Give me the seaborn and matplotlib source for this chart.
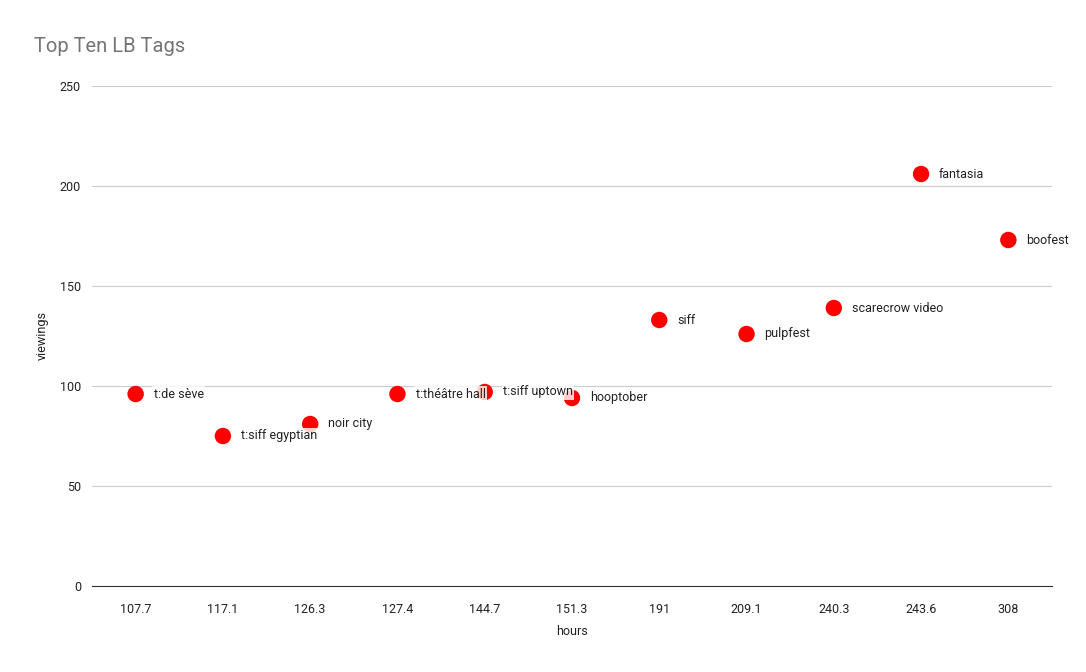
import pandas as pd
import matplotlib
matplotlib.use("Agg")
import matplotlib.pyplot as plt
import seaborn as sns

hours = ['107.7', '117.1', '126.3', '127.4', '144.7', '151.3', '191', '209.1', '240.3', '243.6', '308']
viewings = [96, 75, 81, 96, 97, 94, 133, 126, 139, 206, 173]
tags = ['t:de sève', 't:siff egyptian', 'noir city', 't:théâtre hall', 't:siff uptown',
        'hooptober', 'siff', 'pulpfest', 'scarecrow video', 'fantasia', 'boofest']

df = pd.DataFrame({'hours': hours, 'viewings': viewings, 'tag': tags})

sns.set_theme(style='white')
plt.rcParams['font.family'] = ['Roboto', 'DejaVu Sans']

fig = plt.figure(figsize=(10.86, 6.72), dpi=100)
ax = fig.add_axes([92 / 1086, 86 / 672, 960 / 1086, 500 / 672])

sns.scatterplot(x='hours', y='viewings', data=df, ax=ax, color='#ff0000',
                s=140, edgecolor='none', zorder=3)

# labels to the right of each point
for i, row in df.iterrows():
    ax.annotate(row['tag'], (i, row['viewings']), xytext=(13, 0), textcoords='offset points',
                va='center', ha='left', fontsize=9, color='#222222', zorder=4,
                bbox=dict(boxstyle='square,pad=0.1', fc='white', ec='none', alpha=0.8))

ax.set_xlim(-0.5, len(hours) - 0.5)
ax.set_ylim(0, 250)
ax.set_yticks([0, 50, 100, 150, 200, 250])
ax.yaxis.grid(True, color='#cccccc', linewidth=0.8)
ax.set_axisbelow(True)
for side in ['top', 'right', 'left']:
    ax.spines[side].set_visible(False)
ax.spines['bottom'].set_color('#333333')
ax.spines['bottom'].set_linewidth(0.8)
ax.tick_params(axis='both', length=0, labelsize=9, colors='#222222', pad=8)
ax.tick_params(axis='x', pad=12)

ax.set_xlabel('hours', fontsize=9, color='#222222', labelpad=7)
ax.set_ylabel('viewings', fontsize=9, color='#222222', labelpad=8)
fig.text(34 / 1086, 1 - 46 / 672, 'Top Ten LB Tags', fontsize=14.5, color='#757575',
         ha='left', va='center')

plt.savefig('out.png', dpi=100)
